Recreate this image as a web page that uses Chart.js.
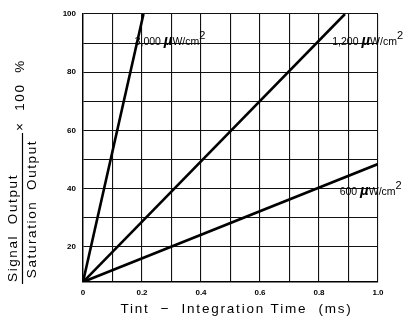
<!DOCTYPE html>
<html>
<head>
<meta charset="utf-8">
<script src="https://cdn.jsdelivr.net/npm/chart.js@4/dist/chart.umd.min.js"></script>
<style>
html,body{margin:0;padding:0;background:#fff;}
#wrap{width:413px;height:328px;position:relative;}
</style>
</head>
<body>
<div id="wrap"><canvas id="c" width="413" height="328"></canvas></div>
<script>
// Data
const seriesNames = ["3,000", "1,200", "600"];
const series3000 = [{x: 0, y: 8}, {x: 0.205, y: 100}];
const series1200 = [{x: 0, y: 8}, {x: 0.888, y: 100}];
const series600  = [{x: 0, y: 8}, {x: 1.0, y: 48.5}];
const xTickLabels = {0: "0", 2: "0.2", 4: "0.4", 6: "0.6", 8: "0.8", 10: "1.0"};
const yTickLabels = [20, 40, 60, 80, 100];
// label anchor points (data coords) for each curve annotation
const labelAnchors = [{x: 0.175, y: 89.5}, {x: 0.845, y: 89.5}, {x: 0.87, y: 38}];

const FONT = "'Liberation Sans', Arial, sans-serif";

const annot = {
  id: 'annot',
  afterDatasetsDraw(chart) {
    const ctx = chart.ctx;
    const xs = chart.scales.x, ys = chart.scales.y;
    ctx.save();
    ctx.fillStyle = '#000';
    ctx.textBaseline = 'alphabetic';
    seriesNames.forEach((nm, i) => {
      let px = xs.getPixelForValue(labelAnchors[i].x);
      let py = ys.getPixelForValue(labelAnchors[i].y);
      const parts = [
        {t: nm + ' ', f: '10.5px ' + FONT, dy: 0},
        {t: 'µ', f: 'italic bold 15px ' + FONT, dy: 0},
        {t: 'W/cm', f: '10.5px ' + FONT, dy: 0},
        {t: '2', f: '11px ' + FONT, dy: -6}
      ];
      ctx.textAlign = 'left';
      parts.forEach(p => {
        ctx.font = p.f;
        ctx.fillText(p.t, px, py + p.dy);
        px += ctx.measureText(p.t).width;
      });
    });
    ctx.restore();
  },
  afterDraw(chart) {
    const ctx = chart.ctx;
    ctx.save();
    ctx.fillStyle = '#000';
    ctx.strokeStyle = '#000';
    // x title
    ctx.font = '13.5px ' + FONT;
    ctx.letterSpacing = '1.8px';
    ctx.textAlign = 'center';
    ctx.textBaseline = 'middle';
    const ca = chart.chartArea;
    ctx.fillText('Tint  \u2212  Integration Time  (ms)', (ca.left + ca.right) / 2 + 6, 309);
    // y title (fraction)
    ctx.save();
    ctx.rotate(-Math.PI / 2);
    ctx.font = '13.5px ' + FONT;
    ctx.letterSpacing = '1.6px';
    ctx.textAlign = 'center';
    ctx.fillText('Signal  Output', -228, 13);
    ctx.fillText('Saturation  Output', -209, 32);
    ctx.textAlign = 'left';
    ctx.fillText('\u00d7  100  %', -131, 20);
    ctx.restore();
    ctx.lineWidth = 1.2;
    ctx.beginPath();
    ctx.moveTo(22.5, 133);
    ctx.lineTo(22.5, 284);
    ctx.stroke();
    ctx.restore();
  }
};

const lineDs = (data) => ({
  data, borderColor: '#000', borderWidth: 2.6, pointRadius: 0, fill: false, tension: 0, showLine: true
});

new Chart(document.getElementById('c'), {
  type: 'scatter',
  data: {
    datasets: [lineDs(series3000), lineDs(series1200), lineDs(series600)]
  },
  options: {
    responsive: false,
    animation: false,
    events: [],
    layout: {padding: {top: 14, right: 35, left: 0, bottom: 0}},
    plugins: {legend: {display: false}, tooltip: {enabled: false}},
    scales: {
      x: {
        type: 'linear', min: 0, max: 1,
        afterFit(s) { s.height = 46; },
        ticks: {
          stepSize: 0.1, autoSkip: false, maxRotation: 0, padding: 6, color: '#000',
          font: {family: FONT, size: 8, weight: 'bold'},
          callback(v) { const k = Math.round(v * 10); return xTickLabels[k] !== undefined ? xTickLabels[k] : ''; }
        },
        grid: {color: '#111', lineWidth: 1.1, drawTicks: false},
        border: {color: '#000', width: 1.4}
      },
      y: {
        type: 'linear', min: 8, max: 100,
        afterFit(s) { s.width = 83; },
        ticks: {
          stepSize: 10, autoSkip: false, padding: 7, color: '#000',
          font: {family: FONT, size: 8, weight: 'bold'},
          callback(v) { return yTickLabels.includes(v) ? String(v) : ''; }
        },
        grid: {
          color: (c) => (c.tick && c.tick.value >= 20 ? '#111' : 'rgba(0,0,0,0)'),
          lineWidth: 1.1, drawTicks: false
        },
        border: {color: '#000', width: 1.4}
      }
    }
  },
  plugins: [annot]
});
</script>
</body>
</html>
